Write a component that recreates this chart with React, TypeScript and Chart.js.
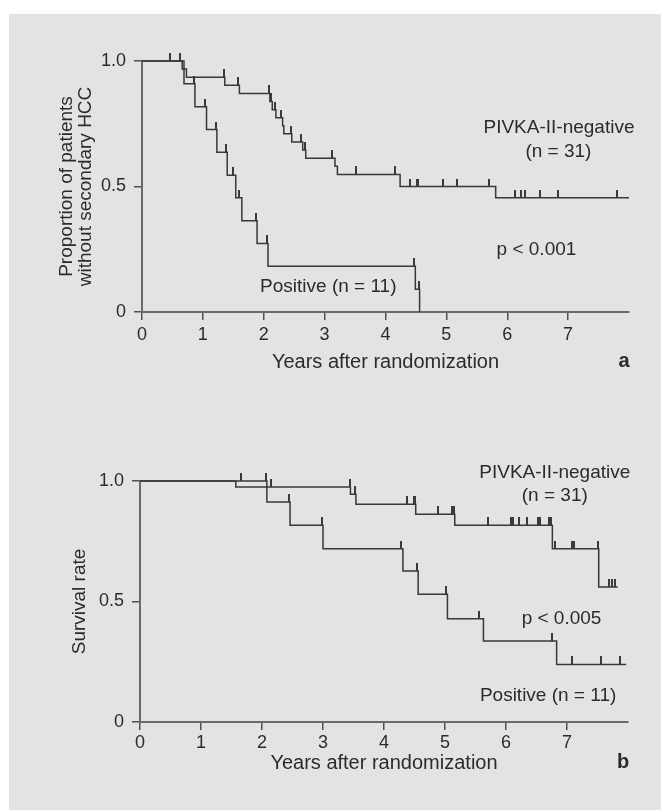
import React, { useEffect, useRef } from "react";
import { Chart, registerables } from "chart.js";

Chart.register(...registerables);

// ---------- axis ticks ----------
const xTickValues = [0, 1, 2, 3, 4, 5, 6, 7];
const yTickValues = [0, 0.5, 1];
const yTickLabels = ["0", "0.5", "1.0"];

// ---------- panel a: proportion without secondary HCC ----------
const negA_times = [0.66, 0.73, 1.36, 1.60, 2.10, 2.14, 2.20, 2.31, 2.33, 2.46, 2.64, 2.69, 3.17, 3.21, 4.24, 5.81];
const negA_surv = [0.968, 0.935, 0.903, 0.871, 0.839, 0.806, 0.774, 0.742, 0.710, 0.677, 0.645, 0.613, 0.581, 0.548, 0.500, 0.455];
const negA_censor = [0.46, 0.63, 1.34, 1.58, 2.08, 2.12, 2.18, 2.29, 2.44, 2.62, 2.67, 3.12, 3.52, 4.16, 4.40, 4.51, 4.54, 4.94, 5.18, 5.70, 6.13, 6.22, 6.29, 6.54, 6.83, 7.80];
const negA_end = 8.0;

const posA_times = [0.69, 0.87, 1.06, 1.23, 1.40, 1.54, 1.64, 1.89, 2.07, 4.49, 4.56];
const posA_surv = [0.909, 0.818, 0.727, 0.636, 0.545, 0.455, 0.364, 0.273, 0.182, 0.091, 0];
const posA_censor = [0.85, 1.04, 1.21, 1.38, 1.49, 1.59, 1.87, 2.05, 4.47, 4.55];
const posA_end = 4.56;

// ---------- panel b: survival rate ----------
const negB_times = [1.57, 3.45, 3.54, 4.52, 5.16, 6.76, 7.52];
const negB_surv = [0.975, 0.945, 0.904, 0.862, 0.816, 0.719, 0.560];
const negB_censor = [2.15, 3.44, 3.53, 4.38, 4.49, 4.51, 4.89, 5.11, 5.14, 5.71, 6.08, 6.11, 6.21, 6.34, 6.52, 6.55, 6.71, 6.74, 6.80, 7.09, 7.12, 7.51, 7.69, 7.73, 7.78];
const negB_end = 7.83;

const posB_times = [2.08, 2.46, 3.00, 4.31, 4.56, 5.04, 5.63, 6.83];
const posB_surv = [0.913, 0.816, 0.719, 0.627, 0.530, 0.428, 0.336, 0.239];
const posB_censor = [1.66, 2.07, 2.44, 2.99, 4.28, 4.54, 5.02, 5.55, 6.76, 7.09, 7.56, 7.87];
const posB_end = 7.97;

// ---------- styles ----------
const FONT = '"Liberation Sans", Arial, Helvetica, sans-serif';
const TEXT = "#2b2b2b";
const CURVE = "#383838";
const AXIS = "#6a6a6a";
const TICK = "#505050";

function stepPoints(times: number[], surv: number[], end: number) {
  const pts = [{ x: 0, y: 1 }];
  times.forEach((t, i) => pts.push({ x: t, y: surv[i] }));
  pts.push({ x: end, y: surv[surv.length - 1] });
  return pts;
}

function survAt(times: number[], surv: number[], t: number) {
  let s = 1;
  for (let i = 0; i < times.length; i++) if (times[i] <= t) s = surv[i];
  return s;
}

function censorPoints(times: number[], surv: number[], cens: number[]) {
  return cens.map((t) => ({ x: t, y: survAt(times, surv, t) }));
}

let tickImgCache: HTMLCanvasElement | null = null;
function tickImage() {
  if (tickImgCache) return tickImgCache;
  const c = document.createElement("canvas");
  c.width = 2;
  c.height = 16;
  const g = c.getContext("2d")!;
  g.fillStyle = "#3a3a3a";
  g.fillRect(0, 0, 2, 8);
  tickImgCache = c;
  return c;
}

const annotPlugin = {
  id: "annot",
  afterDraw(chart: any, _args: any, opts: any) {
    const { ctx } = chart;
    const xs = chart.scales.x;
    const ys = chart.scales.y;
    ctx.save();
    ctx.fillStyle = TEXT;
    ctx.textAlign = "center";
    ctx.textBaseline = "middle";
    for (const l of opts.items || []) {
      ctx.font = `${l.bold ? "bold " : ""}${l.size}px ${FONT}`;
      ctx.fillText(l.text, xs.getPixelForValue(l.x), ys.getPixelForValue(l.y));
    }
    ctx.restore();
  },
};

type PanelCfg = {
  neg: [number[], number[], number[], number];
  pos: [number[], number[], number[], number];
  padding: { left: number; right: number; top: number; bottom: number };
  yWidth: number;
  xHeight: number;
  yTitle: string | string[];
  yTitlePad: number;
  xTickPad: number;
  items: any[];
};

function buildConfig(p: PanelCfg): any {
  const [nt, ns, nc, ne] = p.neg;
  const [pt, ps, pc, pe] = p.pos;
  const lineDs = (data: any[]) => ({
    data,
    stepped: true,
    borderColor: CURVE,
    borderWidth: 1.5,
    pointRadius: 0,
    fill: false,
    clip: false,
  });
  const tickDs = (data: any[]) => ({
    data,
    showLine: false,
    pointStyle: tickImage(),
    pointRadius: 4,
    clip: false,
  });
  return {
    type: "line",
    data: {
      datasets: [
        lineDs(stepPoints(nt, ns, ne)),
        lineDs(stepPoints(pt, ps, pe)),
        tickDs(censorPoints(nt, ns, nc)),
        tickDs(censorPoints(pt, ps, pc)),
      ],
    },
    options: {
      animation: false,
      responsive: false,
      devicePixelRatio: 1,
      events: [],
      layout: { padding: p.padding },
      plugins: {
        legend: { display: false },
        tooltip: { enabled: false },
        annot: { items: p.items },
      },
      scales: {
        x: {
          type: "linear",
          min: 0,
          max: 8,
          afterBuildTicks: (s: any) => {
            s.ticks = xTickValues.map((v) => ({ value: v }));
          },
          afterFit: (s: any) => {
            s.height = p.xHeight;
          },
          ticks: {
            autoSkip: false,
            maxRotation: 0,
            padding: p.xTickPad,
            color: TEXT,
            font: { family: FONT, size: 18, lineHeight: 1 },
            callback: (v: number) => String(v),
          },
          grid: {
            display: true,
            drawOnChartArea: false,
            drawTicks: true,
            tickLength: 8,
            color: TICK,
            lineWidth: 1.5,
          },
          border: { display: true, color: AXIS, width: 2 },
          title: {
            display: true,
            text: "Years after randomization",
            color: TEXT,
            font: { family: FONT, size: 20, lineHeight: 1 },
            padding: { top: 0, bottom: 0 },
          },
        },
        y: {
          type: "linear",
          min: 0,
          max: 1,
          afterBuildTicks: (s: any) => {
            s.ticks = yTickValues.map((v) => ({ value: v }));
          },
          afterFit: (s: any) => {
            s.width = p.yWidth;
          },
          ticks: {
            padding: 8,
            color: TEXT,
            font: { family: FONT, size: 18, lineHeight: 1 },
            callback: (v: number) => yTickLabels[yTickValues.indexOf(v)],
          },
          grid: {
            display: true,
            drawOnChartArea: false,
            drawTicks: true,
            tickLength: 8,
            color: TICK,
            lineWidth: 1.5,
          },
          border: { display: true, color: AXIS, width: 2 },
          title: {
            display: true,
            text: p.yTitle,
            color: TEXT,
            font: { family: FONT, size: 19, lineHeight: 1 },
            padding: { top: p.yTitlePad, bottom: 0 },
          },
        },
      },
    },
    plugins: [annotPlugin],
  };
}

const panelA: PanelCfg = {
  neg: [negA_times, negA_surv, negA_censor, negA_end],
  pos: [posA_times, posA_surv, posA_censor, posA_end],
  padding: { left: 50, right: 32, top: 61, bottom: 28 },
  yWidth: 92,
  xHeight: 60,
  yTitle: ["Proportion of patients", "without secondary HCC"],
  yTitlePad: 7.5,
  xTickPad: 6,
  items: [
    { text: "PIVKA-II-negative", x: 6.85, y: 0.733, size: 19 },
    { text: "(n = 31)", x: 6.84, y: 0.637, size: 19 },
    { text: "p < 0.001", x: 6.48, y: 0.247, size: 19 },
    { text: "Positive (n = 11)", x: 3.06, y: 0.1, size: 19 },
    { text: "a", x: 7.92, y: -0.199, size: 20, bold: true },
  ],
};

const panelB: PanelCfg = {
  neg: [negB_times, negB_surv, negB_censor, negB_end],
  pos: [posB_times, posB_surv, posB_censor, posB_end],
  padding: { left: 50, right: 33, top: 81, bottom: 37 },
  yWidth: 90,
  xHeight: 51,
  yTitle: "Survival rate",
  yTitlePad: 20.5,
  xTickPad: 4,
  items: [
    { text: "PIVKA-II-negative", x: 6.8, y: 1.033, size: 19 },
    { text: "(n = 31)", x: 6.8, y: 0.938, size: 19 },
    { text: "p < 0.005", x: 6.91, y: 0.427, size: 19 },
    { text: "Positive (n = 11)", x: 6.69, y: 0.108, size: 19 },
    { text: "b", x: 7.92, y: -0.17, size: 20, bold: true },
  ],
};

function KMChart({ cfg, top, height }: { cfg: PanelCfg; top: number; height: number }) {
  const ref = useRef<HTMLCanvasElement>(null);
  useEffect(() => {
    const chart = new Chart(ref.current!, buildConfig(cfg));
    return () => chart.destroy();
  }, [cfg]);
  return (
    <div style={{ position: "absolute", left: 0, top, width: 661, height }}>
      <canvas ref={ref} width={661} height={height} style={{ display: "block", width: 661, height }} />
    </div>
  );
}

export default function App() {
  return (
    <div style={{ position: "absolute", left: 0, top: 0, width: 661, height: 810, background: "#ffffff", overflow: "hidden" }}>
      <div style={{ position: "absolute", left: 9, top: 14, width: 652, height: 796, background: "#e3e3e3" }} />
      <KMChart cfg={panelA} top={0} height={400} />
      <KMChart cfg={panelB} top={400} height={410} />
    </div>
  );
}
